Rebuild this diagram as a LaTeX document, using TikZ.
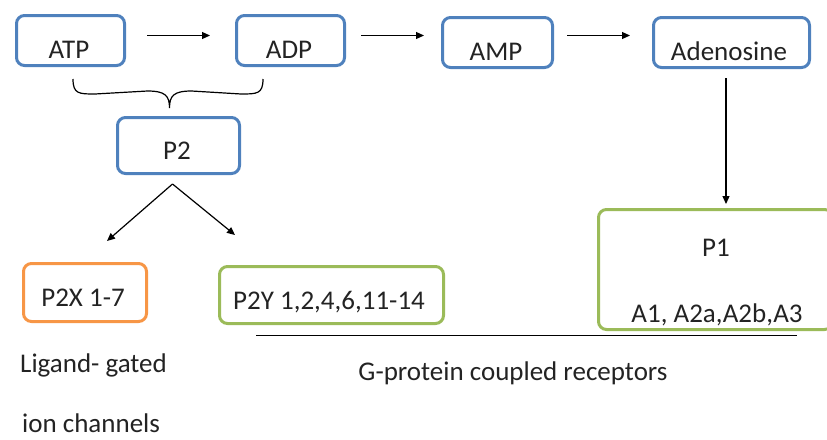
\documentclass[tikz,border=0pt]{standalone}
\usepackage{fontspec}
\setmainfont{Carlito}
\usetikzlibrary{arrows.meta,calc}
\definecolor{boxblue}{RGB}{79,129,189}
\definecolor{boxgreen}{RGB}{155,187,89}
\definecolor{boxorange}{RGB}{247,150,70}
\definecolor{inktext}{RGB}{35,35,35}
\begin{document}
\begin{tikzpicture}[x=1pt,y=-1pt,
  box/.style={rounded corners=8pt,line width=3pt,inner sep=0pt,anchor=north west},
  bluebox/.style={box,draw=boxblue},
  greenbox/.style={box,draw=boxgreen},
  orangebox/.style={box,draw=boxorange},
  lbl/.style={font=\fontsize{27}{31}\selectfont,text=inktext,inner sep=0pt,anchor=base},
  arr/.style={line width=1.2pt,-{Triangle[length=8pt,width=7pt]}},
  plain/.style={line width=1.2pt}]
\useasboundingbox (0,0) rectangle (827,439);

% nucleotide boxes along the top
\node[bluebox,minimum width=108pt,minimum height=50pt] (atp) at (15,14) {};
\node[bluebox,minimum width=108pt,minimum height=50pt] (adp) at (235,14) {};
\node[bluebox,minimum width=110pt,minimum height=50pt] (amp) at (441,16) {};
\node[bluebox,minimum width=156pt,minimum height=50pt] (ado) at (652,16) {};
\node[lbl] (atpt) at (69,58) {ATP};
\node[lbl] (adpt) at (289,58) {ADP};
\node[lbl] (ampt) at (496,60) {AMP};
\node[lbl] (adot) at (729,60) {Adenosine};

% receptor boxes
\node[bluebox,minimum width=122pt,minimum height=56pt] (p2) at (116,116) {};
\node[lbl] (p2t) at (177,159) {P2};
\node[orangebox,minimum width=123pt,minimum height=58pt] (p2x) at (22,262) {};
\node[lbl] (p2xt) at (83,306) {P2X 1-7};
\node[greenbox,minimum width=224pt,minimum height=57pt] (p2y) at (218,265) {};
\node[lbl] (p2yt) at (329,309) {P2Y 1,2,4,6,11-14};
\node[greenbox,minimum width=234pt,minimum height=120pt] (p1) at (597,208) {};
\node[lbl] (p1t) at (716,256) {P1};
\node[lbl] (p1s) at (717,322) {A1, A2a,A2b,A3};

% breakdown chain
\draw[arr] ($(atp.east)+(21,-5)$) -- ($(adp.west)+(-25,-5)$);
\draw[arr] ($(adp.east)+(15,-5)$) -- ($(amp.west)+(-17,-7)$);
\draw[arr] ($(amp.east)+(13,-7)$) -- ($(ado.west)+(-22,-7)$);
\draw[arr] (ado.south -| 726,0) ++(0,9) -- ($(p1.north -| 726,0)+(0,-4)$);

% brace joining ATP and ADP
\coordinate (bl) at ($(atp.south west)+(58,12)$);
\coordinate (br) at ($(adp.south west)+(28,12)$);
\coordinate (bt) at ($(p2.north)+(-9,-8)$);
\draw[plain] (bl) .. controls ($(bl)+(0,15)$) and ($(bl)+(6,15)$) .. ($(bl)+(22,15)$)
  -- ($(bt)+(-22,-17)$) .. controls ($(bt)+(-4,-17)$) and ($(bt)+(0,-12)$) .. (bt)
  .. controls ($(bt)+(0,-12)$) and ($(bt)+(4,-17)$) .. ($(bt)+(22,-17)$)
  -- ($(br)+(-22,15)$) .. controls ($(br)+(-6,15)$) and ($(br)+(0,15)$) .. (br);

% P2 splits into the two families
\coordinate (fork) at ($(p2.south)+(-6,9)$);
\draw[arr] (fork) -- ($(p2x.north)+(22,-21)$);
\draw[arr] (fork) -- ($(p2y.north west)+(17,-30)$);

% G-protein coupled grouping line and captions
\coordinate (gl) at (256,335);
\coordinate (gr) at (797,335);
\draw[line width=1pt] (gl) -- (gr);
\node[lbl] (gpcr) at (513,380) {G-protein coupled receptors};
\node[lbl,anchor=base west] (lig) at (20,372) {Ligand- gated};
\node[lbl,anchor=base west,text depth=0pt] (ion) at (22,432) {ion channels};
\end{tikzpicture}
\end{document}
